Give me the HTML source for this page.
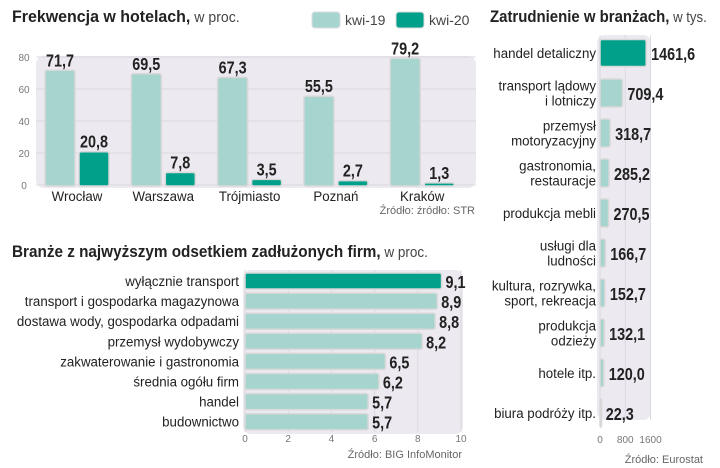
<!DOCTYPE html>
<html><head><meta charset="utf-8">
<style>
body{margin:0;background:#fff;width:720px;height:468px;overflow:hidden}
svg{display:block}
text{font-family:"Liberation Sans",sans-serif}
.t{font-weight:bold;font-size:17px;fill:#222}
.st{font-size:15px;fill:#444;font-weight:normal}
.lab{font-size:14px;fill:#222}
.val{font-weight:bold;font-size:18px;fill:#222}
.tick{font-size:10px;fill:#777}
.src{font-size:11px;fill:#666}
</style></head>
<body>
<svg id="c" width="720" height="468" viewBox="0 0 720 468">
<text class="t" x="12" y="22" transform="translate(12,0) scale(0.94,1) translate(-12,0)">Frekwencja w hotelach,<tspan class="st"> w proc.</tspan></text>
<rect x="312" y="12" width="28" height="16" rx="3" fill="#a6d5cf" stroke="#dcdcdc"/>
<text x="345" y="25" font-size="14" fill="#444">kwi-19</text>
<rect x="396" y="12" width="28" height="16" rx="3" fill="#00a08a" stroke="#dcdcdc"/>
<text x="429" y="25" font-size="14" fill="#444">kwi-20</text>
<rect x="36" y="56" width="440" height="132" rx="8" fill="#ece9f0"/>
<g id="g1"></g>
<text class="src" x="475" y="214" text-anchor="end">Źródło: źródło: STR</text>

<text class="t" x="12" y="257" transform="translate(12,0) scale(0.9,1) translate(-12,0)">Branże z najwyższym odsetkiem zadłużonych firm,<tspan class="st"> w proc.</tspan></text>
<rect x="243" y="270" width="220" height="164" rx="8" fill="#ece9f0"/>
<g id="g2"></g>
<text class="src" x="462" y="458" text-anchor="end">Źródło: BIG InfoMonitor</text>

<text class="t" x="490" y="22" transform="translate(490,0) scale(0.88,1) translate(-490,0)">Zatrudnienie w branżach,<tspan class="st"> w tys.</tspan></text>
<rect x="597" y="35" width="54" height="385" rx="8" fill="#ece9f0"/>
<g id="g3"></g>
<text class="src" x="703" y="463" text-anchor="end">Źródło: Eurostat</text>
</svg>
<script>
const cities=["Wrocław","Warszawa","Trójmiasto","Poznań","Kraków"];
const kwi19=[71.7,69.5,67.3,55.5,79.2];
const kwi20=[20.8,7.8,3.5,2.7,1.3];
const yTicks=[0,20,40,60,80];

const debtCats=["wyłącznie transport","transport i gospodarka magazynowa","dostawa wody, gospodarka odpadami","przemysł wydobywczy","zakwaterowanie i gastronomia","średnia ogółu firm","handel","budownictwo"];
const debtVals=[9.1,8.9,8.8,8.2,6.5,6.2,5.7,5.7];
const debtTicks=[0,2,4,6,8,10];

const empCats=[["handel detaliczny"],["transport lądowy","i lotniczy"],["przemysł","motoryzacyjny"],["gastronomia,","restauracje"],["produkcja mebli"],["usługi dla","ludności"],["kultura, rozrywka,","sport, rekreacja"],["produkcja","odzieży"],["hotele itp."],["biura podróży itp."]];
const empVals=[1461.6,709.4,318.7,285.2,270.5,166.7,152.7,132.1,120.0,22.3];
const empTicks=[0,800,1600];

const NS="http://www.w3.org/2000/svg";
function mk(p,tag,a,txt){const e=document.createElementNS(NS,tag);for(const k in a)e.setAttribute(k,a[k]);if(txt!==undefined)e.textContent=txt;p.appendChild(e);return e;}
function sx(e,x,s){e.setAttribute('transform','translate('+x+',0) scale('+s+',1) translate('+(-x)+',0)');}
const fmt=v=>v.toFixed(1).replace('.',',');
const VS=0.8;

// chart 1
const g1=document.getElementById('g1');
const y1=v=>185-v*1.6;
const cx=i=>77+i*86.3;
yTicks.forEach(t=>{
  const l=mk(g1,'line',{x1:36,x2:476,y1:y1(t),y2:y1(t),stroke:'#dcd8e0','stroke-width':1});
  
  
  const tx=mk(g1,'text',{class:'tick',x:24,y:y1(t)+4,'text-anchor':'middle'},t);
  
  
});
cities.forEach((c,i)=>{
  [[kwi19[i],-32,'#a6d5cf','kwi19'],[kwi20[i],2,'#00a08a','kwi20']].forEach(([v,off,col,s])=>{
    const x=cx(i)+off,h=Math.max(v*1.6,2);
    const r=mk(g1,'rect',{x:x,y:185-h,width:30,height:h+1,rx:2,fill:col,stroke:'#d8d8d8','stroke-width':1.5});
    
    
    const t=mk(g1,'text',{class:'val',x:x+15,y:185-h-4,'text-anchor':'middle'},fmt(v));
    sx(t,x+15,VS);
    
    
  });
  const t=mk(g1,'text',{class:'lab',x:cx(i),y:201,'text-anchor':'middle','font-size':15},c);
  sx(t,cx(i),0.95);
  
  
});

// chart 2
const g2=document.getElementById('g2');
const x2=v=>245+v*21.6;
debtTicks.forEach(t=>{
  const l=mk(g2,'line',{x1:x2(t),x2:x2(t),y1:270,y2:432,stroke:'#dcd8e0'});
  
  
  const tx=mk(g2,'text',{class:'tick',x:x2(t),y:442,'text-anchor':'middle'},t);
  
  
});
debtCats.forEach((c,i)=>{
  const yc=281+i*20.1;
  const r=mk(g2,'rect',{x:245,y:yc-8,width:x2(debtVals[i])-245,height:16,rx:2,fill:i==0?'#00a08a':'#a6d5cf',stroke:'#d8d8d8','stroke-width':1.5});
  
  
  const l=mk(g2,'text',{class:'lab',x:239,y:yc+5,'text-anchor':'end'},c);
  sx(l,239,0.95);
  
  
  const v=mk(g2,'text',{class:'val',x:x2(debtVals[i])+4,y:yc+7},fmt(debtVals[i]));
  sx(v,x2(debtVals[i])+4,VS);
  
  
});

// chart 3
const g3=document.getElementById('g3');
const x3=v=>600+v*0.0316;
empTicks.forEach(t=>{
  const l=mk(g3,'line',{x1:x3(t),x2:x3(t),y1:35,y2:420,stroke:'#dcd8e0'});
  
  
  const tx=mk(g3,'text',{class:'tick',x:x3(t),y:443,'text-anchor':'middle'},t);
  
  
});
empCats.forEach((lines,i)=>{
  const yc=53+i*40;
  const h=i==0?27:28;
  const r=mk(g3,'rect',{x:600,y:yc-h/2,width:Math.max(x3(empVals[i])-600,1.5),height:h,rx:2,fill:i==0?'#00a08a':'#a6d5cf',stroke:'#d8d8d8','stroke-width':1.5});
  
  
  const t=mk(g3,'text',{class:'lab',x:596,'text-anchor':'end'});
  sx(t,596,0.95);
  
  
  lines.forEach((ln,j)=>{
    mk(t,'tspan',{x:596,y:yc+5+(j-(lines.length-1)/2)*15},ln);
  });
  const vx=x3(empVals[i])+5;
  const v=mk(g3,'text',{class:'val',x:vx,y:yc+7},fmt(empVals[i]));
  sx(v,vx,VS);
  
  
});
</script>
</body></html>
